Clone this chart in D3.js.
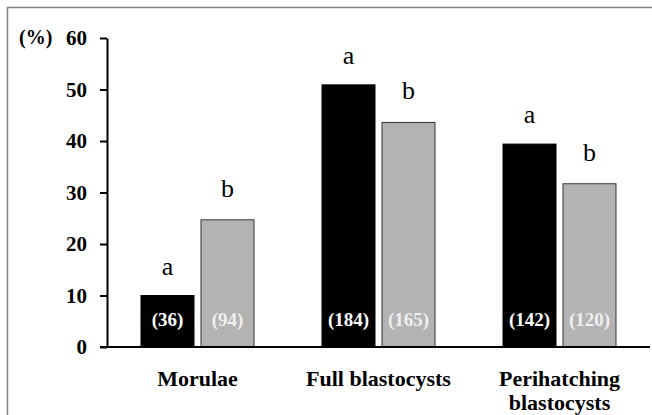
<!DOCTYPE html>
<html>
<head>
<meta charset="utf-8">
<script src="https://cdn.jsdelivr.net/npm/d3@7"></script>
</head>
<body style="margin:0">
<svg id="chart" width="652" height="415"></svg>
<script>
const categories = ["Morulae", "Full blastocysts", "Perihatching blastocysts"];
const categoryLines = [["Morulae"], ["Full blastocysts"], ["Perihatching", "blastocysts"]];
const seriesNames = ["A", "B"];
const seriesA = [10, 50.9, 39.4];
const seriesB = [24.7, 43.6, 31.7];
const countsA = ["(36)", "(184)", "(142)"];
const countsB = ["(94)", "(165)", "(120)"];
const lettersA = ["a", "a", "a"];
const lettersB = ["b", "b", "b"];
const yTicks = [0, 10, 20, 30, 40, 50, 60];

const ff = () => "'Times New Roman'";
const svg = d3.select("#chart");

svg.append("rect")
  .attr("x", 7.5).attr("y", 7.5)
  .attr("width", 700).attr("height", 500)
  .attr("fill", "none").attr("stroke", "#808080").attr("stroke-width", 1.5);

const y = d3.scaleLinear().domain([0, 60]).range([347, 38]);
const x0 = d3.scaleBand().domain(categories).range([107, 650])
  .paddingInner(0.3757).paddingOuter(0.1878);
const x1 = d3.scaleBand().domain(seriesNames).range([0, x0.bandwidth()])
  .paddingInner(0.1167).paddingOuter(0);

const rows = categories.map((c, i) => ({
  cat: c,
  bars: [
    { s: "A", v: seriesA[i], n: countsA[i], l: lettersA[i] },
    { s: "B", v: seriesB[i], n: countsB[i], l: lettersB[i] }
  ]
}));

const groups = svg.append("g").selectAll("g").data(rows).join("g")
  .attr("transform", d => `translate(${x0(d.cat)},0)`);

groups.selectAll("rect").data(d => d.bars).join("rect")
  .attr("x", d => x1(d.s))
  .attr("y", d => y(d.v))
  .attr("width", x1.bandwidth())
  .attr("height", d => y(0) - y(d.v))
  .attr("fill", d => d.s === "A" ? "#000" : "#b3b3b3")
  .attr("stroke", d => d.s === "A" ? "#000" : "#333")
  .attr("stroke-width", 1);

groups.selectAll("text.count").data(d => d.bars).join("text")
  .attr("class", "count")
  .attr("x", d => x1(d.s) + x1.bandwidth() / 2)
  .attr("y", 326)
  .attr("text-anchor", "middle")
  .style("font-family", ff)
  .attr("font-weight", "bold")
  .attr("font-size", 19)
  .attr("fill", d => d.s === "A" ? "#fff" : "#efefef")
  .text(d => d.n);

groups.selectAll("text.letter").data(d => d.bars).join("text")
  .attr("class", "letter")
  .attr("x", d => x1(d.s) + x1.bandwidth() / 2)
  .attr("y", d => y(d.v) - (d.s === "A" ? 21 : 23))
  .attr("text-anchor", "middle")
  .style("font-family", ff)
  .attr("font-size", 26)
  .attr("fill", "#000")
  .text(d => d.l);

const yAxis = d3.axisLeft(y).tickValues(yTicks).tickSize(7).tickSizeOuter(0).tickPadding(13);
const ga = svg.append("g").attr("transform", "translate(107,0)").call(yAxis);
ga.attr("font-family", null).attr("font-size", null);
ga.select(".domain").attr("stroke", "#000").attr("stroke-width", 2);
ga.selectAll(".tick line").attr("stroke", "#000").attr("stroke-width", 2);
ga.selectAll(".tick text")
  .style("font-family", ff)
  .attr("font-size", 21).attr("font-weight", "bold").attr("fill", "#000");

svg.append("line")
  .attr("x1", 100).attr("x2", 650)
  .attr("y1", y(0)).attr("y2", y(0))
  .attr("stroke", "#000").attr("stroke-width", 2);

svg.append("text").attr("x", 19).attr("y", 44)
  .style("font-family", ff)
  .attr("font-size", 20).attr("font-weight", "bold").text("(%)");

svg.selectAll("text.cat").data(categories).join("text")
  .attr("class", "cat")
  .attr("x", d => x0(d) + x0.bandwidth() / 2)
  .attr("y", 386)
  .attr("text-anchor", "middle")
  .style("font-family", ff)
  .attr("font-size", 22).attr("font-weight", "bold")
  .each(function (d, i) {
    const cx = x0(d) + x0.bandwidth() / 2;
    d3.select(this).selectAll("tspan").data(categoryLines[i]).join("tspan")
      .attr("x", cx).attr("dy", (ln, j) => j === 0 ? 0 : 24).text(ln => ln);
  });
</script>
</body>
</html>
